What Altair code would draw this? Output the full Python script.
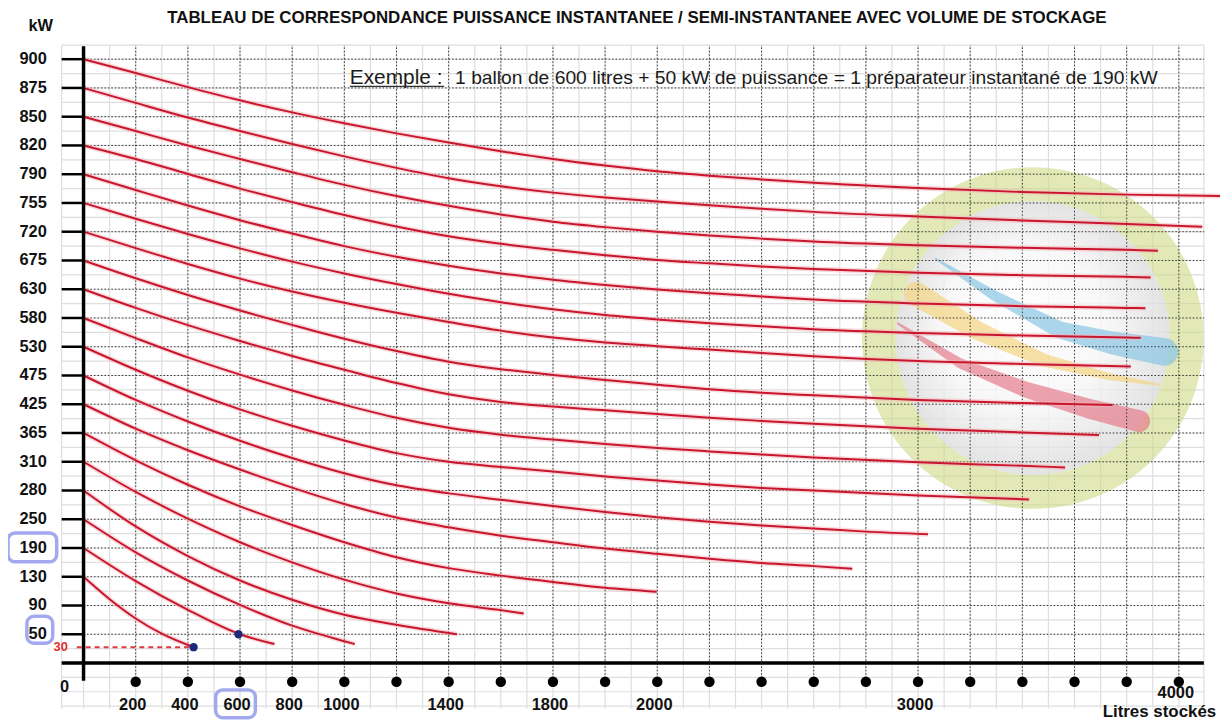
import altair as alt
import pandas as pd

# ---------------- data ----------------
# y-axis levels (kW), evenly spaced: index 1 (bottom) .. 21 (top)
kw_levels = ["50", "90", "130", "190", "250", "280", "310", "365", "425", "475", "530",
             "580", "630", "675", "720", "755", "790", "820", "850", "875", "900"]
# x-axis: stored-litres marks (index of the black dot) and their labels
litres_idx = [1, 2, 3, 4, 5, 7, 9, 11, 16, 21]
litres_txt = ["200", "400", "600", "800", "1000", "1400", "1800", "2000", "3000", "4000"]
dot_idx = list(range(1, 22))

# curves: (litres index, kW index) — one curve per starting power
c900 = [(0, 21.0), (1, 20.52), (2, 20.03), (3, 19.57), (4, 19.15), (5, 18.77), (6, 18.42), (7, 18.10), (8, 17.80), (9, 17.53), (10, 17.30), (11, 17.10), (12, 16.95), (13, 16.82), (14, 16.70), (16, 16.52), (18, 16.38), (20, 16.29), (21.79, 16.24)]
c875 = [(0, 20.0), (1, 19.48), (2, 18.97), (3, 18.50), (4, 18.05), (5, 17.62), (6, 17.22), (7, 16.86), (8, 16.58), (9, 16.36), (10, 16.19), (11, 16.05), (12, 15.92), (13, 15.80), (14, 15.69), (16, 15.53), (18, 15.39), (20, 15.27), (21.45, 15.17)]
c850 = [(0, 19.0), (1, 18.50), (2, 18.00), (3, 17.53), (4, 17.07), (5, 16.63), (6, 16.24), (7, 15.90), (8, 15.60), (9, 15.35), (10, 15.16), (11, 15.00), (12, 14.87), (13, 14.76), (14, 14.66), (16, 14.53), (18, 14.44), (20, 14.37), (20.6, 14.34)]
c820 = [(0, 18.0), (1, 17.53), (2, 17.01), (3, 16.50), (4, 16.03), (5, 15.58), (6, 15.18), (7, 14.84), (8, 14.58), (9, 14.37), (10, 14.18), (11, 14.02), (12, 13.90), (13, 13.79), (14, 13.70), (16, 13.57), (18, 13.49), (20, 13.43), (20.46, 13.41)]
c790 = [(0, 17.0), (1, 16.45), (2, 15.91), (3, 15.40), (4, 14.94), (5, 14.50), (6, 14.13), (7, 13.82), (8, 13.55), (9, 13.33), (10, 13.15), (11, 12.99), (12, 12.86), (13, 12.75), (14, 12.64), (16, 12.50), (18, 12.41), (20, 12.35), (20.36, 12.34)]
c755 = [(0, 16.0), (1, 15.45), (2, 14.92), (3, 14.42), (4, 13.96), (5, 13.55), (6, 13.18), (7, 12.84), (8, 12.55), (9, 12.30), (10, 12.10), (11, 11.95), (12, 11.82), (13, 11.71), (14, 11.61), (16, 11.48), (18, 11.39), (20, 11.32), (20.27, 11.31)]
c720 = [(0, 15.0), (1, 14.43), (2, 13.88), (3, 13.37), (4, 12.92), (5, 12.53), (6, 12.18), (7, 11.86), (8, 11.56), (9, 11.32), (10, 11.15), (11, 11.02), (12, 10.90), (13, 10.78), (14, 10.67), (16, 10.50), (18, 10.40), (20.08, 10.31)]
c675 = [(0, 14.0), (1, 13.38), (2, 12.80), (3, 12.26), (4, 11.76), (5, 11.28), (6, 10.85), (7, 10.48), (8, 10.22), (9, 10.02), (10, 9.84), (11, 9.68), (12, 9.52), (13, 9.40), (14, 9.31), (16, 9.15), (18, 9.04), (19.73, 8.97)]
c630 = [(0, 13.0), (1, 12.35), (2, 11.75), (3, 11.20), (4, 10.68), (5, 10.20), (6, 9.74), (7, 9.35), (8, 9.08), (9, 8.92), (10, 8.79), (11, 8.66), (12, 8.53), (13, 8.42), (14, 8.32), (16, 8.15), (18, 8.02), (19.47, 7.93)]
c580 = [(0, 12.0), (1, 11.30), (2, 10.63), (3, 10.03), (4, 9.48), (5, 8.98), (6, 8.53), (7, 8.18), (8, 7.94), (9, 7.77), (10, 7.62), (11, 7.48), (12, 7.36), (13, 7.25), (14, 7.15), (16, 6.98), (18, 6.86), (18.82, 6.80)]
c530 = [(0, 11.0), (1, 10.20), (2, 9.47), (3, 8.82), (4, 8.25), (5, 7.74), (6, 7.30), (7, 7.00), (8, 6.82), (9, 6.66), (10, 6.49), (11, 6.35), (12, 6.21), (13, 6.09), (14, 6.00), (16, 5.83), (18.13, 5.69)]
c475 = [(0, 10.0), (1, 9.15), (2, 8.40), (3, 7.73), (4, 7.13), (5, 6.60), (6, 6.18), (7, 5.90), (8, 5.68), (9, 5.46), (10, 5.25), (11, 5.07), (12, 4.91), (13, 4.78), (14, 4.68), (15, 4.57), (16.19, 4.48)]
c425 = [(0, 9.0), (1, 8.15), (2, 7.40), (3, 6.73), (4, 6.10), (5, 5.53), (6, 5.06), (7, 4.72), (8, 4.43), (9, 4.20), (10, 3.98), (11, 3.80), (12, 3.63), (13, 3.48), (14, 3.37), (14.74, 3.28)]
c365 = [(0, 8.0), (1, 7.05), (2, 6.20), (3, 5.45), (4, 4.80), (5, 4.20), (6, 3.68), (7, 3.30), (8, 3.04), (9, 2.82), (10, 2.62), (10.99, 2.48)]
c310 = [(0, 7.0), (1, 5.95), (2, 5.02), (3, 4.20), (4, 3.50), (5, 2.90), (6, 2.42), (7, 2.08), (8, 1.84), (8.44, 1.72)]
c280 = [(0, 6.0), (1, 4.75), (2, 3.72), (3, 2.87), (4, 2.20), (5, 1.68), (6, 1.33), (7.16, 1.00)]
c250 = [(0, 5.0), (1, 3.85), (2, 2.87), (3, 2.02), (4, 1.30), (5, 0.76), (5.2, 0.66)]
c190 = [(0, 4.0), (1, 2.85), (2, 1.85), (3, 1.00), (3.66, 0.66)]
c130 = [(0, 3.0), (0.5, 2.22), (1, 1.55), (1.5, 1.02), (2.11, 0.55)]

# example points (blue) and the 30 kW reference
example_x = [2.11, 2.97]
example_y = [0.55, 1.0]
ref30_level = 0.55

# logo swooshes (decorative watermark): x, y, width
sw_blue = [(16.34, 14.06, 2), (17.45, 12.79, 10), (18.72, 11.58, 17), (19.73, 11.13, 23), (20.72, 10.82, 28)]
sw_yellow = [(15.96, 12.84, 24), (17.12, 11.58, 19), (18.40, 10.54, 13), (19.67, 9.96, 7), (20.62, 9.68, 2)]
sw_red = [(15.61, 11.81, 2), (16.81, 10.42, 10), (18.08, 9.50, 16), (19.35, 8.81, 20), (20.24, 8.41, 22)]

# ---------------- tables ----------------
curve_sets = [("900", c900), ("875", c875), ("850", c850), ("820", c820), ("790", c790), ("755", c755),
              ("720", c720), ("675", c675), ("630", c630), ("580", c580), ("530", c530), ("475", c475),
              ("425", c425), ("365", c365), ("310", c310), ("280", c280), ("250", c250), ("190", c190),
              ("130", c130)]
curve_df = pd.DataFrame([{"curve": n, "o": j, "x": x, "y": y}
                         for n, pts in curve_sets for j, (x, y) in enumerate(pts)])

levels_df = pd.DataFrame({"k": list(range(1, 22)), "label": kw_levels})
levels_df["x0"] = 0.0
levels_df["xa"] = -0.42

dots_df = pd.DataFrame({"i": dot_idx})
dots_df["yb"] = -0.65
dots_df["yt"] = 21.49

xl_df = pd.DataFrame({"i": litres_idx, "t": litres_txt})
xl_df["y"] = [-1.06 if t == "4000" else -1.45 for t in litres_txt]

ex_df = pd.DataFrame({"x": example_x, "y": example_y})
ref_df = pd.DataFrame({"x": [-0.13], "x2": [2.09], "y": [ref30_level]})

grid_v = pd.DataFrame({"x": [i * 0.5 for i in range(0, 43)] + [-0.42, 21.48]})
grid_h = pd.DataFrame({"y": [i * 0.5 for i in range(-3, 43)] + [21.49]})

axis_h = pd.DataFrame({"x": [-0.42], "x2": [21.48], "y": [0.0]})
axis_v = pd.DataFrame({"x": [0.0], "y": [-0.62], "y2": [21.45]})

sw_df = pd.DataFrame([{"name": n, "c": c, "o": j, "x": x, "y": y, "w": w}
                      for n, c, pts in [("b", "#8ac6e4", sw_blue), ("y", "#f5d683", sw_yellow),
                                        ("r", "#e5808e", sw_red)]
                      for j, (x, y, w) in enumerate(pts)])
logo_df = pd.DataFrame({"x": [18.2], "y": [11.3]})

one = pd.DataFrame({"a": [0]})

# ---------------- scales ----------------
W, H = 1166, 668
XS = alt.Scale(domain=[-0.42, 21.79], nice=False, zero=False)
YS = alt.Scale(domain=[-1.59, 21.49], nice=False, zero=False)
FONT = "Liberation Sans"


def X(f):
    return alt.X(f, type="quantitative", scale=XS, axis=None)


def Y(f):
    return alt.Y(f, type="quantitative", scale=YS, axis=None)


# light background grid
g_v = alt.Chart(grid_v).mark_rule(color="#dedede", strokeWidth=1.2).encode(
    x=X("x"), y=alt.value(0), y2=alt.value(H))
g_h = alt.Chart(grid_h).mark_rule(color="#dedede", strokeWidth=1.2).encode(
    y=Y("y"), x=alt.value(0), x2=alt.value(1150))

# watermark logo
logo_fill = alt.Chart(logo_df).mark_circle(
    opacity=0.8,
    color=alt.RadialGradient(gradient="radial",
                             stops=[alt.GradientStop(color="#ffffff", offset=0),
                                    alt.GradientStop(color="#f6f6f6", offset=0.6),
                                    alt.GradientStop(color="#dcdcdc", offset=1)],
                             x1=0.42, y1=0.4, r1=0, x2=0.5, y2=0.5, r2=0.5)
).encode(x=X("x"), y=Y("y"), size=alt.value(76176))
logo_ring = alt.Chart(logo_df).mark_point(shape="circle", filled=False, strokeWidth=34,
                                          color="#cfdb86", opacity=0.6).encode(
    x=X("x"), y=Y("y"), size=alt.value(96100))
swoosh = alt.Chart(sw_df).mark_trail(opacity=0.72).encode(
    x=X("x"), y=Y("y"), size=alt.Size("w:Q", scale=None, legend=None),
    color=alt.Color("c:N", scale=None, legend=None), detail="name:N", order="o:Q")

# dotted major grid
d_h = alt.Chart(levels_df).mark_rule(color="#333333", strokeDash=[1.5, 2], strokeWidth=1).encode(
    y=Y("k"), x=X("x0"), x2=alt.value(1150))
d_v = alt.Chart(dots_df).mark_rule(color="#333333", strokeDash=[1.5, 2], strokeWidth=1).encode(
    x=X("i"), y=Y("yb"), y2=alt.Y2("yt"))

# curves
halo = alt.Chart(curve_df).mark_line(interpolate="monotone", color="#f6b3ba", strokeWidth=5,
                                     opacity=0.5).encode(
    x=X("x"), y=Y("y"), detail="curve:N", order="o:Q")
lines = alt.Chart(curve_df).mark_line(interpolate="monotone", color="#c8162d", strokeWidth=2).encode(
    x=X("x"), y=Y("y"), detail="curve:N", order="o:Q")

# axes lines and ticks
ax_h = alt.Chart(axis_h).mark_rule(color="black", strokeWidth=3.5).encode(
    x=X("x"), x2=alt.X2("x2"), y=Y("y"))
ax_v = alt.Chart(axis_v).mark_rule(color="black", strokeWidth=3.5).encode(
    x=X("x"), y=Y("y"), y2=alt.Y2("y2"))
ticks = alt.Chart(levels_df).mark_rule(color="black", strokeWidth=2.5).encode(
    y=Y("k"), x=X("xa"), x2=alt.X2("x0"))

bdots = alt.Chart(dots_df).mark_circle(color="black", opacity=1, size=110).encode(
    x=X("i"), y=Y("yb"))
exdots = alt.Chart(ex_df).mark_circle(color="#1b2a7c", opacity=1, size=70).encode(
    x=X("x"), y=Y("y"))
ref = alt.Chart(ref_df).mark_rule(color="#e03a3a", strokeDash=[5, 4], strokeWidth=2).encode(
    x=X("x"), x2=alt.X2("x2"), y=Y("y"))

# texts
ylab = alt.Chart(levels_df).mark_text(font=FONT, fontSize=16.5, fontWeight="bold", align="right",
                                      baseline="middle", dx=-15, color="#111").encode(
    x=alt.value(0), y=Y("k"), text="label:N")
xlab = alt.Chart(xl_df).mark_text(font=FONT, fontSize=16.5, fontWeight="bold", align="center",
                                  baseline="middle", dx=-3, color="#111").encode(
    x=X("i"), y=Y("y"), text="t:N")
t30 = alt.Chart(ref_df).mark_text(font=FONT, fontSize=13, fontWeight="bold", align="center",
                                  baseline="middle", color="#e03030", text="30").encode(
    x=alt.value(-1), y=Y("y"))
t0 = alt.Chart(one).mark_text(font=FONT, fontSize=16.5, fontWeight="bold", align="center",
                              baseline="middle", color="#111", text="0").encode(
    x=alt.value(3), y=alt.value(646))
tkw = alt.Chart(one).mark_text(font=FONT, fontSize=16.5, fontWeight="bold", align="center",
                               baseline="middle", color="#111", text="kW").encode(
    x=alt.value(-21), y=alt.value(-19))
title = alt.Chart(one).mark_text(font=FONT, fontSize=17, fontWeight="bold", align="center",
                                 baseline="middle", color="#111",
                                 text="TABLEAU DE CORRESPONDANCE PUISSANCE INSTANTANEE / SEMI-INSTANTANEE AVEC VOLUME DE STOCKAGE").encode(
    x=alt.value(579), y=alt.value(-27))
litres = alt.Chart(one).mark_text(font=FONT, fontSize=17, fontWeight="bold", align="center",
                                  baseline="middle", color="#111", text="Litres stockés").encode(
    x=alt.value(1105), y=alt.value(671))
ex1 = alt.Chart(one).mark_text(font=FONT, fontSize=21, align="left", baseline="alphabetic",
                               color="#1a1a1a", text="Exemple :").encode(
    x=alt.value(290), y=alt.value(39))
ex_ul = alt.Chart(one).mark_rule(color="#333", strokeWidth=1.3).encode(
    x=alt.value(290), x2=alt.value(385), y=alt.value(41.5))
ex2 = alt.Chart(one).mark_text(font=FONT, fontSize=19.4, align="left", baseline="alphabetic",
                               color="#1a1a1a",
                               text="1 ballon de 600 litres + 50 kW de puissance = 1 préparateur instantané de 190 kW").encode(
    x=alt.value(396), y=alt.value(39))

# highlight boxes around 190, 50 and 600
boxes_df = pd.DataFrame({"l": [-54, -35, 155], "r": [-5, -9, 195],
                         "t": [491, 575, 649], "b": [520, 602, 677]})
boxes = alt.Chart(boxes_df).mark_rect(fill="transparent", stroke="#a3a9ee", strokeWidth=3.5,
                                      cornerRadius=7).encode(
    x=alt.X("l:Q", scale=None), x2="r:Q", y=alt.Y("t:Q", scale=None), y2="b:Q")

chart = alt.layer(
    g_v, g_h, logo_fill, logo_ring, swoosh, d_h, d_v, halo, lines, ax_h, ax_v, ticks,
    bdots, exdots, ref, ylab, xlab, t30, t0, tkw, title, litres, ex1, ex_ul, ex2, boxes
).properties(
    width=W, height=H,
    padding={"left": 54, "top": 35, "right": 4, "bottom": 12},
    autosize=alt.AutoSizeParams(type="none"),
    background="white",
).configure_view(strokeWidth=0)

chart.save("out.html", embed_options={"renderer": "svg", "actions": False})
